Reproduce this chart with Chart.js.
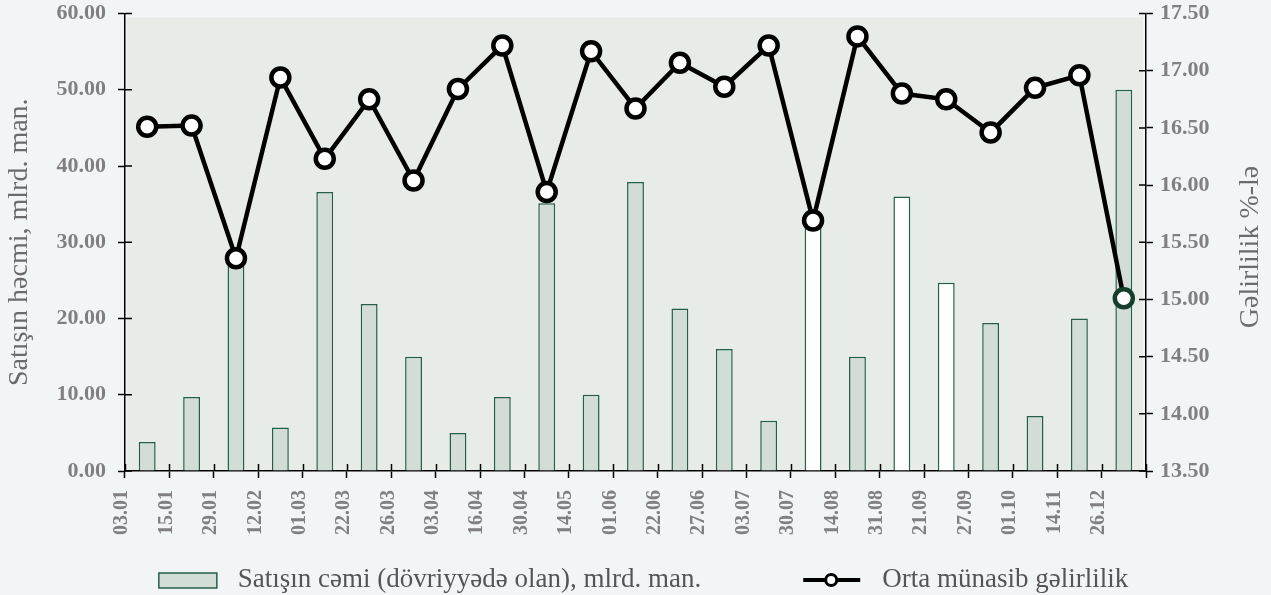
<!DOCTYPE html>
<html>
<head>
<meta charset="utf-8">
<script src="https://cdn.jsdelivr.net/npm/chart.js@4.4.1/dist/chart.umd.min.js"></script>
<style>
  html, body { margin: 0; padding: 0; background: #f2f5f6; }
</style>
</head>
<body>
<canvas id="myChart" width="1271" height="595"></canvas>
<script>
const dates = ['03.01', '15.01', '29.01', '12.02', '01.03', '22.03', '26.03', '03.04', '16.04', '30.04', '14.05', '01.06',
               '22.06', '27.06', '03.07', '30.07', '14.08', '31.08', '21.09', '27.09', '01.10', '14.11', '26.12'];
const salesTotal = [3.8, 9.7, 28.0, 5.7, 36.6, 21.9, 15.0, 5.0, 9.7, 35.1, 10.0, 37.9,
                    21.3, 16.0, 6.6, 32.8, 15.0, 36.0, 24.7, 19.4, 7.2, 20.0, 50.0];
const avgYield = [16.51, 16.52, 15.36, 16.94, 16.23, 16.75, 16.04, 16.84, 17.22, 15.94, 17.17, 16.67,
                  17.07, 16.86, 17.22, 15.69, 17.30, 16.80, 16.75, 16.46, 16.85, 16.96, 15.01];
const whiteBars = ['30.07', '31.08', '21.09'];

const salesLabel = 'Satışın cəmi (dövriyyədə olan), mlrd. man.';
const yieldLabel = 'Orta münasib gəlirlilik';
const leftTitle = 'Satışın həcmi, mlrd. man.';
const rightTitle = 'Gəlirlilik %-lə';

const serif = 'Liberation Serif';
Chart.defaults.font.family = serif;

const barFill = '#d3ddd8';
const barEdge = '#245f47';

// background + plot area
const bgPlugin = {
  id: 'bg',
  beforeDraw(chart) {
    const {ctx, chartArea: a} = chart;
    ctx.save();
    ctx.fillStyle = '#f2f5f6';
    ctx.fillRect(0, 0, chart.width, chart.height);
    ctx.fillStyle = '#e8ece9';
    ctx.fillRect(a.left + 2, a.top + 4, a.right - a.left - 5, a.bottom - a.top - 4);
    ctx.restore();
  }
};

// tick marks reaching into the plot, right title, legend
const extrasPlugin = {
  id: 'extras',
  afterDraw(chart) {
    const {ctx, chartArea: a} = chart;
    const xs = chart.scales.x, yl = chart.scales.y, yr = chart.scales.y1;
    ctx.save();
    ctx.strokeStyle = '#000';
    ctx.lineWidth = 1.5;
    ctx.beginPath();
    const step = xs.getPixelForValue(1) - xs.getPixelForValue(0);
    for (let i = 0; i <= dates.length; i++) {
      const px = Math.round(xs.getPixelForValue(0) + (i - 0.5) * step) + 0.5;
      ctx.moveTo(px, a.bottom); ctx.lineTo(px, a.bottom - 7);
    }
    yl.ticks.forEach(t => {
      const py = yl.getPixelForValue(t.value);
      ctx.moveTo(a.left, py); ctx.lineTo(a.left + 7, py);
    });
    yr.ticks.forEach(t => {
      const py = yr.getPixelForValue(t.value);
      ctx.moveTo(a.right, py); ctx.lineTo(a.right - 7, py);
    });
    ctx.stroke();

    // right axis title, reading bottom to top
    ctx.fillStyle = '#6b6b6b';
    ctx.font = '28px "' + serif + '"';
    ctx.textAlign = 'center';
    ctx.textBaseline = 'middle';
    ctx.translate(1251, 247);
    ctx.rotate(-Math.PI / 2);
    ctx.fillText(rightTitle, 0, 0);
    ctx.restore();

    // legend
    ctx.save();
    ctx.font = '27px "' + serif + '"';
    ctx.textBaseline = 'middle';
    ctx.textAlign = 'left';
    const w1 = ctx.measureText(salesLabel).width;
    const w2 = ctx.measureText(yieldLabel).width;
    const gap = 102, mark = 79;
    const total = mark + w1 + gap + mark + w2;
    let x = (chart.width - total) / 2 + 8;
    const cy = 580;
    ctx.fillStyle = barFill;
    ctx.strokeStyle = barEdge;
    ctx.lineWidth = 1.5;
    ctx.fillRect(x, cy - 7, 58, 15);
    ctx.strokeRect(x, cy - 7, 58, 15);
    ctx.fillStyle = '#555';
    ctx.fillText(salesLabel, x + mark, cy);
    x += mark + w1 + gap;
    ctx.strokeStyle = '#000';
    ctx.lineWidth = 4;
    ctx.beginPath();
    ctx.moveTo(x, cy); ctx.lineTo(x + 57, cy);
    ctx.stroke();
    ctx.beginPath();
    ctx.arc(x + 28, cy, 5.5, 0, Math.PI * 2);
    ctx.fillStyle = '#fff';
    ctx.fill();
    ctx.lineWidth = 3;
    ctx.stroke();
    ctx.fillStyle = '#555';
    ctx.fillText(yieldLabel, x + mark, cy);
    ctx.restore();
  }
};

const tickFont = {family: serif, size: 22, weight: 'bold'};

function fixPad(s) {
  s.paddingTop = 10;
  s.paddingBottom = 0;
}

const ctx = document.getElementById('myChart').getContext('2d');
new Chart(ctx, {
  data: {
    labels: dates,
    datasets: [
      {
        type: 'bar',
        label: salesLabel,
        data: salesTotal,
        yAxisID: 'y',
        backgroundColor: dates.map(d => whiteBars.includes(d) ? '#ffffff' : barFill),
        borderColor: barEdge,
        borderWidth: 1.5,
        barPercentage: 0.38,
        categoryPercentage: 1,
        order: 2
      },
      {
        type: 'line',
        label: yieldLabel,
        data: avgYield,
        yAxisID: 'y1',
        borderColor: '#000',
        borderWidth: 4.5,
        pointRadius: 9,
        pointBorderWidth: 4.5,
        pointBackgroundColor: '#fff',
        pointBorderColor: dates.map((d, i) => i === dates.length - 1 ? '#173d2b' : '#000'),
        tension: 0,
        clip: false,
        order: 1
      }
    ]
  },
  options: {
    responsive: false,
    animation: false,
    events: [],
    layout: { padding: { top: 0, bottom: 59 } },
    plugins: {
      legend: { display: false },
      tooltip: { enabled: false }
    },
    scales: {
      x: {
        offset: true,
        grid: { offset: true, drawOnChartArea: false, tickLength: 7, tickColor: '#000', tickWidth: 1.5 },
        border: { color: '#000', width: 1.5 },
        ticks: {
          autoSkip: false, maxRotation: 90, minRotation: 90, labelOffset: -25, padding: 12,
          font: {family: serif, size: 20, weight: 'bold'}, color: '#808080'
        },
        afterFit(s) { s.height = 65; s.paddingLeft = 0; s.paddingRight = 0; }
      },
      y: {
        position: 'left',
        min: 0, max: 60,
        grid: { drawOnChartArea: false, tickLength: 7, tickColor: '#000', tickWidth: 1.5 },
        border: { color: '#000', width: 1.5 },
        ticks: { stepSize: 10, padding: 12, font: tickFont, color: '#808080', callback: v => v.toFixed(2) },
        title: { display: true, text: leftTitle, color: '#6b6b6b', font: {family: serif, size: 28}, padding: {top: 3, bottom: 0} },
        afterFit(s) { s.width = 125; fixPad(s); }
      },
      y1: {
        position: 'right',
        min: 13.5, max: 17.5,
        grid: { drawOnChartArea: false, tickLength: 7, tickColor: '#000', tickWidth: 1.5 },
        border: { color: '#000', width: 1.5 },
        ticks: { stepSize: 0.5, padding: 7, font: tickFont, color: '#808080', callback: v => v.toFixed(2) },
        afterFit(s) { s.width = 125; fixPad(s); }
      }
    }
  },
  plugins: [bgPlugin, extrasPlugin]
});
</script>
</body>
</html>
